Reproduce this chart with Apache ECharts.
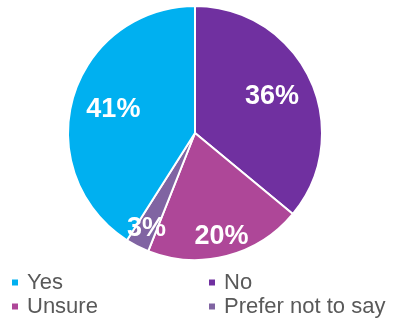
<!DOCTYPE html>
<html>
<head>
<meta charset="utf-8">
<style>
  html, body { margin: 0; padding: 0; background: #fff; }
  #chart { width: 393px; height: 320px; }
</style>
<script src="https://cdn.jsdelivr.net/npm/echarts@6/dist/echarts.min.js"></script>
</head>
<body>
<div id="chart"></div>
<script>
// Survey answers, drawn clockwise from 12 o'clock
const categories = ['No', 'Unsure', 'Prefer not to say', 'Yes'];
const values = [36, 20, 3, 41];
const colors = ['#7030A0', '#AE4798', '#8064A2', '#00B0F0'];
// Legend columns
const legendLeft = ['Yes', 'Unsure'];
const legendRight = ['No', 'Prefer not to say'];
// Slices whose label sits further out towards the rim
const outerLabelled = ['Unsure', 'Prefer not to say'];

const chart = echarts.init(document.getElementById('chart'), null, { renderer: 'canvas' });

const slices = categories.map((name, i) => ({
  name,
  value: values[i],
  itemStyle: { color: colors[i] }
}));

const labelStyle = {
  position: 'inside',
  color: '#fff',
  fontFamily: 'Liberation Sans, Arial, sans-serif',
  fontWeight: 'bold',
  fontSize: 27,
  formatter: p => p.value + '%'
};

// Transparent ring used only to place the labels of a group of slices
function labelRing(radius, showNames) {
  return {
    type: 'pie',
    center: [195, 133],
    radius,
    startAngle: 90,
    clockwise: true,
    silent: true,
    legendHoverLink: false,
    animation: false,
    z: 3,
    itemStyle: { color: 'transparent', borderWidth: 0 },
    labelLine: { show: false },
    label: labelStyle,
    data: categories.map((name, i) => ({
      name,
      value: values[i],
      itemStyle: { color: 'transparent' },
      label: { show: showNames.includes(name) }
    }))
  };
}

const legendBase = {
  orient: 'vertical',
  top: 271,
  height: 49,
  padding: 0,
  icon: 'rect',
  itemWidth: 8,
  itemHeight: 8,
  itemGap: 1,
  selectedMode: false,
  textStyle: {
    color: '#595959',
    fontFamily: 'Liberation Sans, Arial, sans-serif',
    fontSize: 22,
    lineHeight: 23,
    padding: [0, 0, 0, 3]
  }
};

chart.setOption({
  animation: false,
  color: colors,
  legend: [
    Object.assign({}, legendBase, { left: 10, data: legendLeft }),
    Object.assign({}, legendBase, { left: 207, data: legendRight })
  ],
  series: [
    {
      type: 'pie',
      center: [195, 133],
      radius: [0, 127],
      startAngle: 90,
      clockwise: true,
      animation: false,
      itemStyle: { borderColor: '#fff', borderWidth: 2 },
      label: { show: false },
      labelLine: { show: false },
      data: slices
    },
    labelRing([37, 127], categories.filter(c => !outerLabelled.includes(c))),
    labelRing([81, 127], outerLabelled)
  ]
});
</script>
</body>
</html>
